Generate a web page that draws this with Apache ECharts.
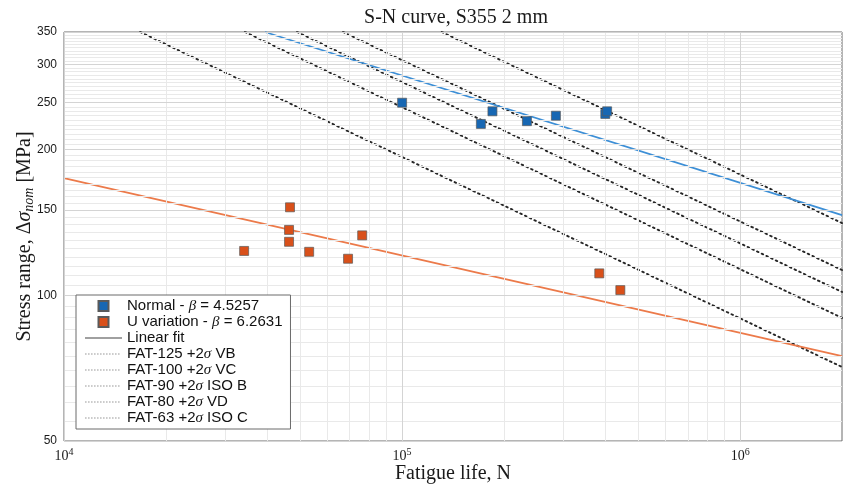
<!DOCTYPE html>
<html><head><meta charset="utf-8">
<script src="https://cdn.jsdelivr.net/npm/echarts@6/dist/echarts.min.js"></script>
<style>html,body{margin:0;padding:0;background:#fff}#c{width:846px;height:484px}</style>
</head><body><div id="c"></div>
<script>
// ---- data ----
const normalName = 'Normal - β = 4.5257';
const uvarName = 'U variation - β = 6.2631';
const fitName = 'Linear fit';
const normalN = [1.0e5, 1.71e5, 1.85e5, 2.34e5, 2.85e5, 3.99e5, 4.04e5];
const normalS = [250, 226, 240, 229, 235, 237, 240];
const uvarN = [3.41e4, 4.66e4, 4.63e4, 4.63e4, 5.31e4, 6.92e4, 7.62e4, 3.83e5, 4.42e5];
const uvarS = [123.5, 152, 136.5, 129, 123, 119, 133, 111, 102.5];
const normalFitN = [3.93e4, 2.0e6];
const normalFitS = [350, 146.5];
const uvarFitN = [1.0e4, 2.0e6];
const uvarFitS = [174.7, 74.9];
const fatNames = ['FAT-125 +2σ VB', 'FAT-100 +2σ VC', 'FAT-90 +2σ ISO B', 'FAT-80 +2σ VD', 'FAT-63 +2σ ISO C'];
const fatN = [[1.31e5, 2.0e6], [6.69e4, 2.0e6], [4.89e4, 2.0e6], [3.43e4, 2.0e6], [1.68e4, 2.0e6]];
const fatS = [[350, 141], [350, 112.8], [350, 101.6], [350, 89.8], [350, 71.1]];
const xTicks = [1e4, 1e5, 1e6];
const xMinorGrid = [2e4, 3e4, 4e4, 5e4, 6e4, 7e4, 8e4, 9e4, 2e5, 3e5, 4e5, 5e5, 6e5, 7e5, 8e5, 9e5];
const yTicks = [50, 100, 150, 200, 250, 300, 350];
const yMinorGrid = [55, 60, 65, 70, 75, 80, 85, 90, 95, 105, 110, 115, 120, 125, 130, 135, 140, 145, 155, 160, 165, 170, 175, 180, 185, 190, 195, 205, 210, 215, 220, 225, 230, 235, 240, 245, 255, 260, 265, 270, 275, 280, 285, 290, 295, 305, 310, 315, 320, 325, 330, 335, 340, 345];
const xMin = 1e4, xMax = 2e6, yMin = 50, yMax = 350;

// ---- build ----
const zip = (a, b) => a.map((v, i) => [v, b[i]]);
const serif = '"Liberation Serif","DejaVu Serif",serif';
const sans = '"Liberation Sans",Arial,sans-serif';
const frame = '#6a6a6a';
const gridMarks = [];
xMinorGrid.forEach(v => gridMarks.push({xAxis: v, lineStyle: {color: '#e9e9e9', width: 1, type: 'solid'}}));
yMinorGrid.forEach(v => gridMarks.push({yAxis: v, lineStyle: {color: '#e9e9e9', width: 1, type: 'solid'}}));
xTicks.forEach(v => gridMarks.push({xAxis: v, lineStyle: {color: '#d4d4d4', width: 1, type: 'solid'}}));
yTicks.forEach(v => gridMarks.push({yAxis: v, lineStyle: {color: '#d4d4d4', width: 1, type: 'solid'}}));

const series = [];
series.push({
  name: '_grid', type: 'line', z: 1, silent: true, data: [[xMin, yMin]], showSymbol: false, symbol: 'none',
  lineStyle: {opacity: 0},
  markLine: {silent: true, symbol: ['none', 'none'], label: {show: false}, animation: false, data: gridMarks}
});
const fatColor = '#262626';
fatNames.forEach((n, i) => series.push({
  name: n, type: 'line', z: 3, symbol: 'none', showSymbol: false, data: zip(fatN[i], fatS[i]),
  color: fatColor, lineStyle: {color: fatColor, width: 1.9, type: [1.6, 3.6], cap: 'round'}
}));
series.push({name: fitName, type: 'line', z: 2, symbol: 'none', data: [], color: '#7f7f7f', lineStyle: {color: '#7f7f7f', width: 1.2}});
series.push({name: '_nfit', type: 'line', z: 4, symbol: 'none', data: zip(normalFitN, normalFitS), lineStyle: {color: '#3d8fd6', width: 1.8}});
series.push({name: '_ufit', type: 'line', z: 4, symbol: 'none', data: zip(uvarFitN, uvarFitS), lineStyle: {color: '#ec7a4a', width: 1.8}});
series.push({name: normalName, type: 'scatter', z: 6, symbol: 'rect', symbolSize: 9, data: zip(normalN, normalS),
  itemStyle: {color: '#1767b3', borderColor: '#5a5a5a', borderWidth: 0.7, opacity: 1}});
series.push({name: uvarName, type: 'scatter', z: 6, symbol: 'rect', symbolSize: 9, data: zip(uvarN, uvarS),
  itemStyle: {color: '#d9501a', borderColor: '#5a5a5a', borderWidth: 0.7, opacity: 1}});

// legend icons (pure style)
const sq = 'path://M0,0h10v10h-10z';
const solidIcon = 'path://M0,0h37v1.3h-37z';
let dotIcon = 'path://';
for (let p = 0; p < 36; p += 3) dotIcon += 'M' + p + ',0h1.6v1h-1.6z ';
dotIcon += 'M37,0h0v1h0z';
const legendData = [
  {name: normalName, icon: sq},
  {name: uvarName, icon: sq},
  {name: fitName, icon: solidIcon, itemStyle: {color: '#808080', borderWidth: 0}}
].concat(fatNames.map(n => ({name: n, icon: dotIcon, itemStyle: {color: '#9a9a9a', borderWidth: 0}})));

const tickLine = {color: frame, width: 1};
const option = {
  animation: false,
  backgroundColor: '#ffffff',
  title: {
    text: 'S-N curve, S355 2 mm', left: 451, top: 3, textAlign: 'center',
    textStyle: {fontFamily: serif, fontWeight: 'normal', fontSize: 20, color: '#1a1a1a'}
  },
  grid: {left: 64, right: 4, top: 32, bottom: 43, show: true, borderColor: frame, borderWidth: 1,
         backgroundColor: 'transparent', containLabel: false, outerBoundsMode: 'none'},
  legend: {
    orient: 'vertical', left: 76, top: 295, data: legendData,
    itemWidth: 37, itemHeight: 10, itemGap: 0, padding: [3, 8, 3, 9],
    backgroundColor: '#ffffff', borderColor: frame, borderWidth: 1, borderRadius: 0,
    symbolKeepAspect: true, z: 10,
    textStyle: {fontFamily: sans, fontSize: 15, color: '#111', lineHeight: 16,
      rich: {i: {fontFamily: serif, fontStyle: 'italic', fontSize: 15, lineHeight: 16}}},
    formatter: name => name.replace('β', '{i|β}').replace('σ', '{i|σ}')
  },
  xAxis: [{
    type: 'log', logBase: 10, min: xMin, max: xMax,
    name: 'Fatigue life, N', nameLocation: 'middle', nameGap: 23, nameMoveOverlap: false,
    nameTextStyle: {fontFamily: serif, fontSize: 20, color: '#1a1a1a'},
    axisLine: {show: false},
    axisTick: {show: true, inside: true, length: 5, customValues: xTicks.concat(xMinorGrid), lineStyle: tickLine},
    splitLine: {show: false},
    axisLabel: {
      customValues: xTicks, margin: 6, color: '#1a1a1a',
      formatter: v => '{b|10}{s|' + Math.round(Math.log10(v)) + '}',
      rich: {b: {fontFamily: serif, fontSize: 14, lineHeight: 16, verticalAlign: 'bottom'},
             s: {fontFamily: serif, fontSize: 10, lineHeight: 16, verticalAlign: 'top', padding: [0, 0, 6, 0]}}
    }
  }, {
    type: 'log', logBase: 10, min: xMin, max: xMax, position: 'top',
    axisLine: {show: false}, axisLabel: {show: false}, splitLine: {show: false},
    axisTick: {show: true, inside: true, length: 5, customValues: xTicks.concat(xMinorGrid), lineStyle: tickLine}
  }],
  yAxis: [{
    type: 'log', logBase: 10, min: yMin, max: yMax,
    name: 'Stress range, Δ{i|σ}{sub|nom} [MPa]', nameLocation: 'middle', nameGap: 28, nameRotate: 90, nameMoveOverlap: false,
    nameTextStyle: {fontFamily: serif, fontSize: 20, color: '#1a1a1a',
      rich: {i: {fontFamily: serif, fontStyle: 'italic', fontSize: 20},
             sub: {fontFamily: serif, fontStyle: 'italic', fontSize: 14, verticalAlign: 'bottom', padding: [9, 0, 0, 0]}}},
    axisLine: {show: false},
    axisTick: {show: true, inside: true, length: 4, customValues: yTicks.concat(yMinorGrid), lineStyle: tickLine},
    splitLine: {show: false},
    axisLabel: {customValues: yTicks, margin: 7, fontFamily: sans, fontSize: 12, color: '#1a1a1a', formatter: v => String(Math.round(v))}
  }, {
    type: 'log', logBase: 10, min: yMin, max: yMax, position: 'right',
    axisLine: {show: false}, axisLabel: {show: false}, splitLine: {show: false},
    axisTick: {show: true, inside: true, length: 4, customValues: yTicks.concat(yMinorGrid), lineStyle: tickLine}
  }],
  series: series
};
const chart = echarts.init(document.getElementById('c'));
chart.setOption(option);
</script></body></html>
